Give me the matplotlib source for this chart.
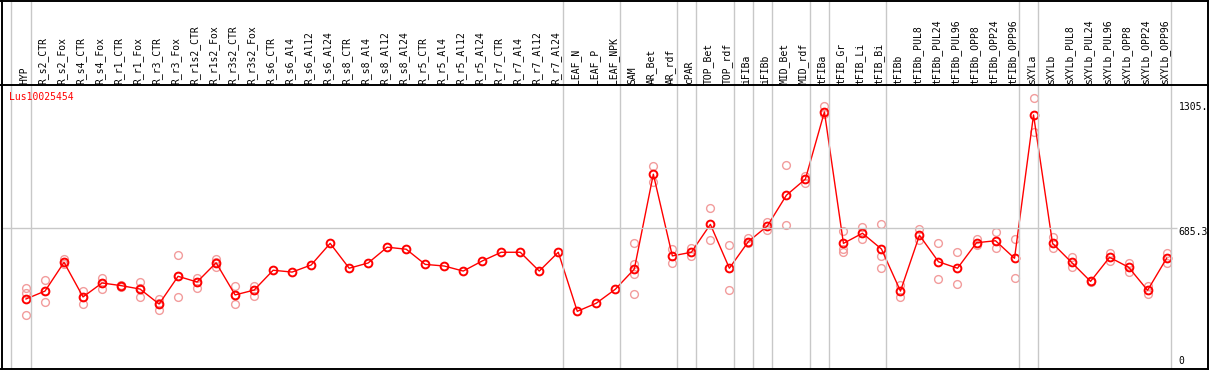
import matplotlib
matplotlib.use("Agg")
import matplotlib.pyplot as plt
from matplotlib.lines import Line2D

# ---------------- data ----------------
categories = ["HYP", "R_s2_CTR", "R_s2_Fox", "R_s4_CTR", "R_s4_Fox", "R_r1_CTR", "R_r1_Fox",
              "R_r3_CTR", "R_r3_Fox", "R_r1s2_CTR", "R_r1s2_Fox", "R_r3s2_CTR", "R_r3s2_Fox",
              "R_s6_CTR", "R_s6_Al4", "R_s6_Al12", "R_s6_Al24", "R_s8_CTR", "R_s8_Al4",
              "R_s8_Al12", "R_s8_Al24", "R_r5_CTR", "R_r5_Al4", "R_r5_Al12", "R_r5_Al24",
              "R_r7_CTR", "R_r7_Al4", "R_r7_Al12", "R_r7_Al24", "LEAF_N", "LEAF_P", "LEAF_NPK",
              "SAM", "AR_Bet", "AR_rdf", "cPAR", "TOP_Bet", "TOP_rdf", "iFIBa", "iFIBb",
              "MID_Bet", "MID_rdf", "tFIBa", "tFIB_Gr", "tFIB_Li", "tFIB_Bi", "tFIBb",
              "tFIBb_PUL8", "tFIBb_PUL24", "tFIBb_PUL96", "tFIBb_OPP8", "tFIBb_OPP24",
              "tFIBb_OPP96", "sXYLa", "sXYLb", "sXYLb_PUL8", "sXYLb_PUL24", "sXYLb_PUL96",
              "sXYLb_OPP8", "sXYLb_OPP24", "sXYLb_OPP96"]

mean_values = [334, 373, 515, 344, 413, 400, 383, 309, 446, 418, 513, 354, 378, 476, 467,
               502, 609, 486, 512, 590, 580, 505, 497, 472, 522, 565, 565, 472, 565, 273, 313,
               382, 482, 951, 547, 565, 703, 486, 618, 695, 847, 927, 1259, 609, 659, 581, 373,
               649, 518, 486, 612, 622, 535, 1244, 609, 515, 421, 540, 491, 377, 535]

replicate_values = [
    [387, 362, 253], [428, 318, 373], [530, 507, 515], [375, 311, 345], [438, 385, 413],
    [405, 395, 400], [418, 342, 388], [332, 281, 312], [550, 342, 446], [439, 390, 420],
    [530, 493, 515], [398, 308, 355], [400, 347, 380],
    [], [], [], [], [], [], [], [], [], [], [], [], [], [], [], [], [], [], [],
    [609, 505, 456, 357], [992, 912], [581, 510], [585, 548], [784, 626], [601, 378],
    [634, 610], [716, 675], [997, 700], [942, 906], [1288, 1249], [670, 580, 565],
    [692, 631], [703, 547, 487], [403, 342], [680, 624], [609, 431], [565, 408],
    [631, 601], [665, 585], [631, 436], [1326, 1161], [642, 585], [543, 491],
    [425, 418], [560, 523], [513, 466], [398, 359], [563, 510],
]

# group separators: after these category indices
group_ends = [0, 28, 31, 34, 35, 37, 38, 39, 41, 42, 45, 52, 53, 60]

gene_name = "Lus10025454"
y_tick_values = [1305, 685.3, 0]
y_tick_labels = ["1305.", "685.3", "0"]

# ---------------- layout ----------------
W, H = 1209, 370
X0, DX = 26.0, 19.01          # pixel x of first category, pixel step
Y0, SY = 366.5, 0.2022        # pixel y (from top) of value 0, px per unit

fig = plt.figure(figsize=(W / 100, H / 100), dpi=100)
ax = fig.add_axes([0, 0, 1, 1])
ax.set_xlim(-X0 / DX, (W - X0) / DX)
ax.set_ylim(-(H - Y0) / SY, Y0 / SY)
ax.axis("off")

def fx(px):
    return px / W

def fy(py):
    return 1 - py / H

def fig_line(x0, y0, x1, y1, color, lw):
    fig.add_artist(Line2D([fx(x0), fx(x1)], [fy(y0), fy(y1)], color=color, lw=lw,
                          transform=fig.transFigure, solid_capstyle="butt"))

mono = "DejaVu Sans Mono"
GRAY = "#c8c8c8"

# vertical group separators (full height)
sep_px = [X0 + DX * (-0.8)] + [X0 + DX * (k + 0.247) for k in group_ends]
for sx in sep_px:
    fig_line(sx, 0, sx, 369, GRAY, 1.0)

# horizontal mid reference line
yref_px = Y0 - SY * y_tick_values[1]
fig_line(1.5, yref_px, 1177, yref_px, GRAY, 1.0)

# black frame
fig_line(0, 0.7, W, 0.7, "black", 1.4)
fig_line(0, 85, W, 85, "black", 1.4)
fig_line(0, 368.7, W, 368.7, "black", 1.4)
fig_line(1.5, 0, 1.5, H, "black", 1.4)
fig_line(1208, 0, 1208, H, "black", 1.4)

# header labels
for i, name in enumerate(categories):
    px = X0 + DX * i - 2
    fig.text(fx(px), fy(83.5), name, rotation=90, ha="center", va="bottom",
             fontsize=7, family=mono, color="black")

# gene label
fig.text(fx(9.5), fy(97.5), gene_name, ha="left", va="center", fontsize=7,
         family=mono, color="red")

# y tick labels
label_py = [107, 232, 361.5]
for lab, py in zip(y_tick_labels, label_py):
    fig.text(fx(1178.5), fy(py), lab, ha="left", va="center", fontsize=7,
             family=mono, color="black")

# replicate points
xs = list(range(len(categories)))
rx, ry = [], []
for i, reps in enumerate(replicate_values):
    for v in reps:
        rx.append(i)
        ry.append(v)
ax.plot(rx, ry, linestyle="none", marker="o", markersize=5.6, markerfacecolor="none",
        markeredgecolor="#f29c9c", markeredgewidth=1.0, zorder=3)

# mean line + markers
ax.plot(xs, mean_values, color="red", lw=1.0, zorder=4)
ax.plot(xs, mean_values, linestyle="none", marker="o", markersize=5.6,
        markerfacecolor="none", markeredgecolor="red", markeredgewidth=1.4, zorder=5)

fig.savefig("out.png", dpi=100)
